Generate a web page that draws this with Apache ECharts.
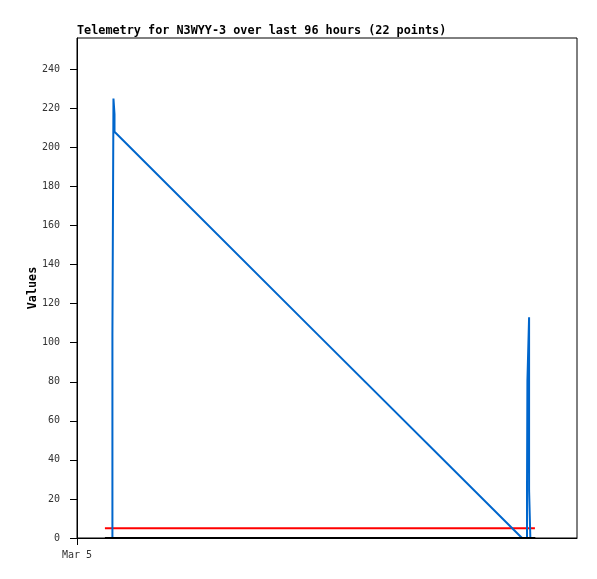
<!DOCTYPE html>
<html>
<head>
<meta charset="utf-8">
<script src="https://cdn.jsdelivr.net/npm/echarts@6/dist/echarts.min.js"></script>
<style>html,body{margin:0;padding:0;background:#fff;}#c{width:597px;height:579px;}</style>
</head>
<body>
<div id="c"></div>
<script>
// Hours since Mar 5 00:00
var blueX = [1.70, 1.70, 1.75, 1.80, 1.80, 11.57, 21.36, 21.60, 21.60, 21.62, 21.70, 21.70, 21.76, 21.76];
var blueY = [0, 104, 225, 217, 208, 104, 0, 0, 24.5, 80.5, 113, 24.5, 24.5, 0];
var redX = [1.34, 21.62, 21.67, 21.98];
var redY = [5, 5, 6, 5];
var blackX = [1.34, 22.0];
var blackY = [0, 0];
var yTicks = [0, 20, 40, 60, 80, 100, 120, 140, 160, 180, 200, 220, 240];
var xTickValues = [0];
var xTickLabels = ['Mar 5'];
var titleText = 'Telemetry for N3WYY-3 over last 96 hours (22 points)';

function pairs(xs, ys) { return xs.map(function (x, i) { return [x, ys[i]]; }); }

var chart = echarts.init(document.getElementById('c'), null, {renderer: 'canvas'});
var mono = 'DejaVu Sans Mono';
chart.setOption({
  animation: false,
  backgroundColor: '#fff',
  title: {
    text: titleText, left: 77, top: 25, padding: 0,
    textStyle: {fontFamily: mono, fontWeight: 'bold', fontSize: 11.8, color: '#000'}
  },
  grid: {left: 77, top: 38, right: 20, bottom: 41, show: true, borderColor: '#000', borderWidth: 1, containLabel: false},
  xAxis: {
    type: 'value', min: 0, max: 24, interval: 24,
    axisLine: {show: true, onZero: false, lineStyle: {color: '#000', width: 1}},
    axisTick: {show: true, length: 7, customValues: xTickValues, lineStyle: {color: '#000'}},
    axisLabel: {
      customValues: xTickValues, margin: 12,
      fontFamily: mono, fontSize: 10, color: '#333',
      formatter: function (v) { var i = xTickValues.indexOf(v); return i >= 0 ? xTickLabels[i] : ''; }
    },
    splitLine: {show: false}
  },
  yAxis: {
    type: 'value', min: 0, max: 256, interval: 20,
    name: 'Values', nameLocation: 'middle', nameGap: 38, nameMoveOverlap: false,
    nameTextStyle: {fontFamily: mono, fontWeight: 'bold', fontSize: 11.8, color: '#000'},
    axisLine: {show: true, lineStyle: {color: '#000', width: 1}},
    axisTick: {show: true, length: 7, customValues: yTicks, lineStyle: {color: '#000'}},
    axisLabel: {customValues: yTicks, margin: 17, fontFamily: mono, fontSize: 10, color: '#333'},
    splitLine: {show: false}
  },
  series: [
    {type: 'line', data: pairs(redX, redY), showSymbol: false, symbol: 'none', z: 1,
     lineStyle: {color: '#ff0000', width: 2, join: 'miter', cap: 'butt'}, itemStyle: {color: '#ff0000'}},
    {type: 'line', data: pairs(blueX, blueY), showSymbol: false, symbol: 'none', z: 2,
     lineStyle: {color: '#0066cc', width: 2, join: 'bevel', cap: 'butt'}, itemStyle: {color: '#0066cc'}},
    {type: 'line', data: pairs(blackX, blackY), showSymbol: false, symbol: 'none', z: 3,
     lineStyle: {color: '#000000', width: 2, join: 'miter', cap: 'butt'}, itemStyle: {color: '#000'}}
  ]
});
</script>
</body>
</html>
